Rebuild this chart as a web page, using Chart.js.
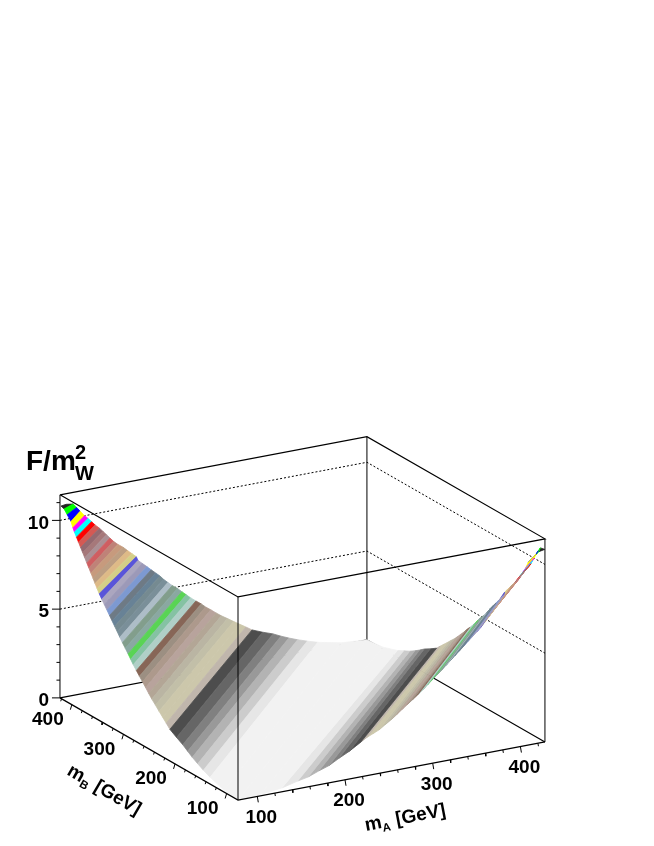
<!DOCTYPE html>
<html>
<head>
<meta charset="utf-8">
<title>F/mW2 surface</title>
<style>
  html, body { margin: 0; padding: 0; background: #fff; }
  #wrap { width: 654px; height: 846px; }
</style>
<script src="https://cdn.jsdelivr.net/npm/chart.js@4"></script>
</head>
<body>
<div id="wrap"><canvas id="surface" width="654" height="846"></canvas></div>
<script>
// tick values
const mAMajorTicks = [100, 200, 300, 400];
const mAMinorTicks = [120, 140, 160, 180, 220, 240, 260, 280, 320, 340, 360, 380, 420];
const mBMajorTicks = [100, 200, 300, 400];
const mBMinorTicks = [120, 140, 160, 180, 220, 240, 260, 280, 320, 340, 360, 380, 420];
const fMajorTicks = [0, 5, 10];
const fMinorTicks = [1, 2, 3, 4, 6, 7, 8, 9, 11];
const fGridLines = [5, 10];

// the contour bands of the surface, read along the outer edges
// FrontDiff: distance from the front corner where a boundary meets the front edge
// BackDiff: distance from the back corner where it meets the back edge
const stripFrontDiff = [0, 27, 54, 67, 78, 88.6, 97.5, 107, 119, 132, 139, 146, 153, 160, 167, 173, 179, 185, 191, 197, 203, 208, 213, 218.5, 224, 229, 234, 239, 244, 249, 254, 259, 264, 269, 273, 277, 281, 285, 289, 293, 297, 301, 305, 309, 313, 317, 320, 323.6, 331, 337, 343];
const stripBackDiff = [0, 29, 56, 68, 79, 89, 98, 107, 119, 131, 138, 145, 152, 159, 166, 172, 178, 184, 189, 195, 201, 206, 211, 216, 222, 227, 232, 236, 241, 246, 251, 256, 261, 263, 268, 273, 278, 284, 289, 293, 297, 301, 305, 310, 314, 318, 322, 327, 331, 335, 343];
const stripF = [0, 0.1, 0.38, 0.56, 0.74, 0.93, 1.12, 1.33, 1.54, 1.78, 2.01, 2.23, 2.45, 2.68, 2.9, 3.12, 3.35, 3.57, 3.79, 4.01, 4.24, 4.46, 4.68, 4.91, 5.13, 5.35, 5.58, 5.8, 6.02, 6.24, 6.47, 6.69, 6.91, 7.14, 7.36, 7.58, 7.81, 8.03, 8.25, 8.47, 8.7, 8.92, 9.14, 9.37, 9.59, 9.81, 10, 10.3, 10.55, 10.78, 10.84];
// the mA > mB side reads a little differently from the mB > mA side
const rightFrontDiff = [0, 25, 50, 68, 80, 92.3, 103.8, 115, 126.6, 140, 147, 154, 161, 168, 175, 181, 187, 193, 199, 205, 211, 216, 221, 226.5, 232, 237, 242, 247, 252, 257, 262, 267, 272, 277, 281, 285, 289, 293, 297, 301, 305, 309, 313, 317, 321, 325, 328, 331, 338, 343, 349];
const rightBackDiff = [0, 31, 59, 71, 83, 93, 102, 111, 123, 135, 142, 149, 156, 163, 170, 176, 182, 188, 193, 199, 205, 210, 215, 220, 226, 231, 236, 240, 245, 250, 255, 260, 265, 267, 272, 277, 282, 288, 293, 297, 301, 305, 309, 314, 318, 321, 324, 328, 332, 336, 344];
const rightF = [0, 0.06, 0.21, 0.43, 0.55, 0.78, 0.97, 1.27, 1.55, 1.95, 2.15, 2.3, 2.45, 2.68, 2.9, 3.12, 3.35, 3.57, 3.79, 4.01, 4.24, 4.46, 4.68, 4.91, 5.13, 5.35, 5.58, 5.8, 6.02, 6.24, 6.47, 6.69, 6.91, 7.14, 7.36, 7.58, 7.81, 8.03, 8.25, 8.47, 8.7, 8.92, 9.14, 9.37, 9.59, 9.81, 10, 10.3, 10.55, 10.78, 10.84];
const stripColors = [
  "#f2f2f2", "#f2f2f2", "#e6e6e6", "#cccccc", "#b3b3b3", "#999999", "#808080", "#666666", "#4d4d4d",
  "#c0b6ac", "#ccc7ab", "#ccc7ab", "#c2bfa8", "#bab5a3", "#b3a696", "#b8a39c", "#ad998c", "#9c8f82", "#876657",
  "#b0cfc7", "#85c2a3", "#59d454", "#8aa8a1", "#829e8c", "#adbdc7", "#7a8f99", "#758a91", "#688296", "#6e7a85",
  "#7d99d1", "#9c99b8", "#aba6bf", "#5954d9", "#d4cf87", "#deba87", "#bd9e82", "#c79a7d", "#bf8278", "#cf5e61",
  "#ab8f94", "#a6787a", "#946970", "#d45954", "#ff0000", "#00ffff", "#ff00ff", "#ffff00", "#0000ff", "#00ff00", "#222222"
];

const mAMin = 78, mAMax = 428, mBMin = 78, mBMax = 423;
const fTop = 11.44;

// oblique view of the box, gives a spot on the page for a (mA, mB, F) triple
function project(mA, mB, f) {
  return {
    x: 238 + (mA - mAMin) * 0.877 - (mB - mBMin) * 0.516,
    y: 800 - (mA - mAMin) * 0.166 - (mB - mBMin) * 0.296 - f * 17.75
  };
}

const datasets = [];

function addLine(points, color, dash, width) {
  datasets.push({
    data: points,
    showLine: true,
    borderColor: color,
    borderWidth: width || 1.2,
    borderDash: dash || [],
    pointRadius: 0,
    fill: false,
    tension: 0,
    clip: false,
    order: -datasets.length
  });
}

function addBand(points, color) {
  datasets.push({
    data: points,
    showLine: true,
    borderColor: color,
    backgroundColor: color,
    borderWidth: 0.8,
    pointRadius: 0,
    fill: "shape",
    tension: 0,
    clip: false,
    order: -datasets.length
  });
}

function tickSegments(values, toStart, dx, dy) {
  const pts = [];
  values.forEach(v => {
    const p = toStart(v);
    pts.push(p, { x: p.x + dx, y: p.y + dy }, { x: NaN, y: NaN });
  });
  return pts;
}

// things that sit behind the surface
fGridLines.forEach(f => {
  addLine([project(mAMin, mBMax, f), project(mAMax, mBMax, f), project(mAMax, mBMin, f)], "#000", [2, 2], 1);
});
addLine([project(mAMin, mBMax, 0), project(mAMax, mBMax, 0), project(mAMax, mBMin, 0)], "#000");
addLine([project(mAMax, mBMax, 0), project(mAMax, mBMax, fTop)], "#000", [], 1);

// right hand side of the valley, outermost band first
for (let i = stripColors.length - 1; i >= 0; i--) {
  addBand([
    project(mAMin + rightFrontDiff[i], mBMin, rightF[i]),
    project(mAMin + rightFrontDiff[i + 1], mBMin, rightF[i + 1]),
    project(mAMax, mBMax - rightBackDiff[i + 1], stripF[i + 1]),
    project(mAMax, mBMax - rightBackDiff[i], stripF[i]),
    project(mAMin + rightFrontDiff[i], mBMin, rightF[i])
  ], stripColors[i]);
}
// left hand side
for (let i = stripColors.length - 1; i >= 0; i--) {
  addBand([
    project(mAMin, mBMin + stripFrontDiff[i], stripF[i]),
    project(mAMin, mBMin + stripFrontDiff[i + 1], stripF[i + 1]),
    project(mAMax - stripBackDiff[i + 1], mBMax, stripF[i + 1]),
    project(mAMax - stripBackDiff[i], mBMax, stripF[i]),
    project(mAMin, mBMin + stripFrontDiff[i], stripF[i])
  ], stripColors[i]);
}

// box edges in front of it
addLine([
  project(mAMin, mBMax, fTop), project(mAMax, mBMax, fTop), project(mAMax, mBMin, fTop),
  project(mAMin, mBMin, fTop), project(mAMin, mBMax, fTop)
], "#000");
addLine([project(mAMin, mBMax, 0), project(mAMin, mBMin, 0), project(mAMax, mBMin, 0)], "#000");
addLine([project(mAMin, mBMin, 0), project(mAMin, mBMin, fTop)], "#000", [], 1);
addLine([project(mAMin, mBMax, 0), project(mAMin, mBMax, fTop)], "#000", [], 1);
addLine([project(mAMax, mBMin, 0), project(mAMax, mBMin, fTop)], "#000", [], 1);

// ticks
addLine(tickSegments(mAMajorTicks, v => project(v, mBMin, 0), 1, 6), "#000", [], 1);
addLine(tickSegments(mAMinorTicks, v => project(v, mBMin, 0), 0.5, 3), "#000", [], 1);
addLine(tickSegments(mBMajorTicks, v => project(mAMin, v, 0), -1.5, 5), "#000", [], 1);
addLine(tickSegments(mBMinorTicks, v => project(mAMin, v, 0), -0.8, 2.5), "#000", [], 1);
addLine(tickSegments(fMajorTicks, v => project(mAMin, mBMax, v), -8, 0), "#000", [], 1);
addLine(tickSegments(fMinorTicks, v => project(mAMin, mBMax, v), -3.5, 0), "#000", [], 1);

const FONT = "'Liberation Sans', Arial, sans-serif";

function drawMassTitle(ctx, sub, x, y, angle) {
  ctx.save();
  ctx.translate(x, y);
  ctx.rotate(angle);
  ctx.textAlign = "left";
  ctx.textBaseline = "alphabetic";
  ctx.font = "bold 19px " + FONT;
  ctx.fillText("m", 0, 0);
  let w = ctx.measureText("m").width;
  ctx.font = "bold 11.5px " + FONT;
  ctx.fillText(sub, w, 4);
  w += ctx.measureText(sub).width + 6;
  ctx.font = "bold 19px " + FONT;
  ctx.fillText("[GeV]", w, 0);
  ctx.restore();
}

const labelPlugin = {
  id: "labels",
  afterDraw(chart) {
    const ctx = chart.ctx;
    ctx.save();
    ctx.fillStyle = "#000";
    ctx.font = "bold 19px " + FONT;
    ctx.textBaseline = "middle";

    ctx.textAlign = "center";
    mAMajorTicks.forEach(v => {
      const p = project(v, mBMin, 0);
      ctx.fillText(String(v), p.x + 4, p.y + 21.5);
    });
    mBMajorTicks.forEach(v => {
      const p = project(mAMin, v, 0);
      ctx.fillText(String(v), p.x - 24, p.y + 15);
    });
    ctx.textAlign = "right";
    fMajorTicks.forEach(v => {
      const p = project(mAMin, mBMax, v);
      ctx.fillText(String(v), p.x - 11, p.y + 3);
    });

    drawMassTitle(ctx, "A", 366, 831, -0.19);
    drawMassTitle(ctx, "B", 66, 774, 0.53);

    // F/m_W^2
    ctx.textAlign = "left";
    ctx.textBaseline = "alphabetic";
    ctx.font = "bold 28px " + FONT;
    ctx.fillText("F/m", 26, 470);
    ctx.font = "bold 20px " + FONT;
    ctx.fillText("2", 75, 459);
    ctx.fillText("W", 75, 480);
    ctx.restore();
  }
};

new Chart(document.getElementById("surface"), {
  type: "scatter",
  data: { datasets },
  options: {
    responsive: false,
    animation: false,
    events: [],
    layout: { padding: 0 },
    plugins: { legend: { display: false }, tooltip: { enabled: false }, title: { display: false } },
    scales: {
      x: { type: "linear", min: 0, max: 654, display: false },
      y: { type: "linear", min: 0, max: 846, reverse: true, display: false }
    }
  },
  plugins: [labelPlugin]
});
</script>
</body>
</html>
